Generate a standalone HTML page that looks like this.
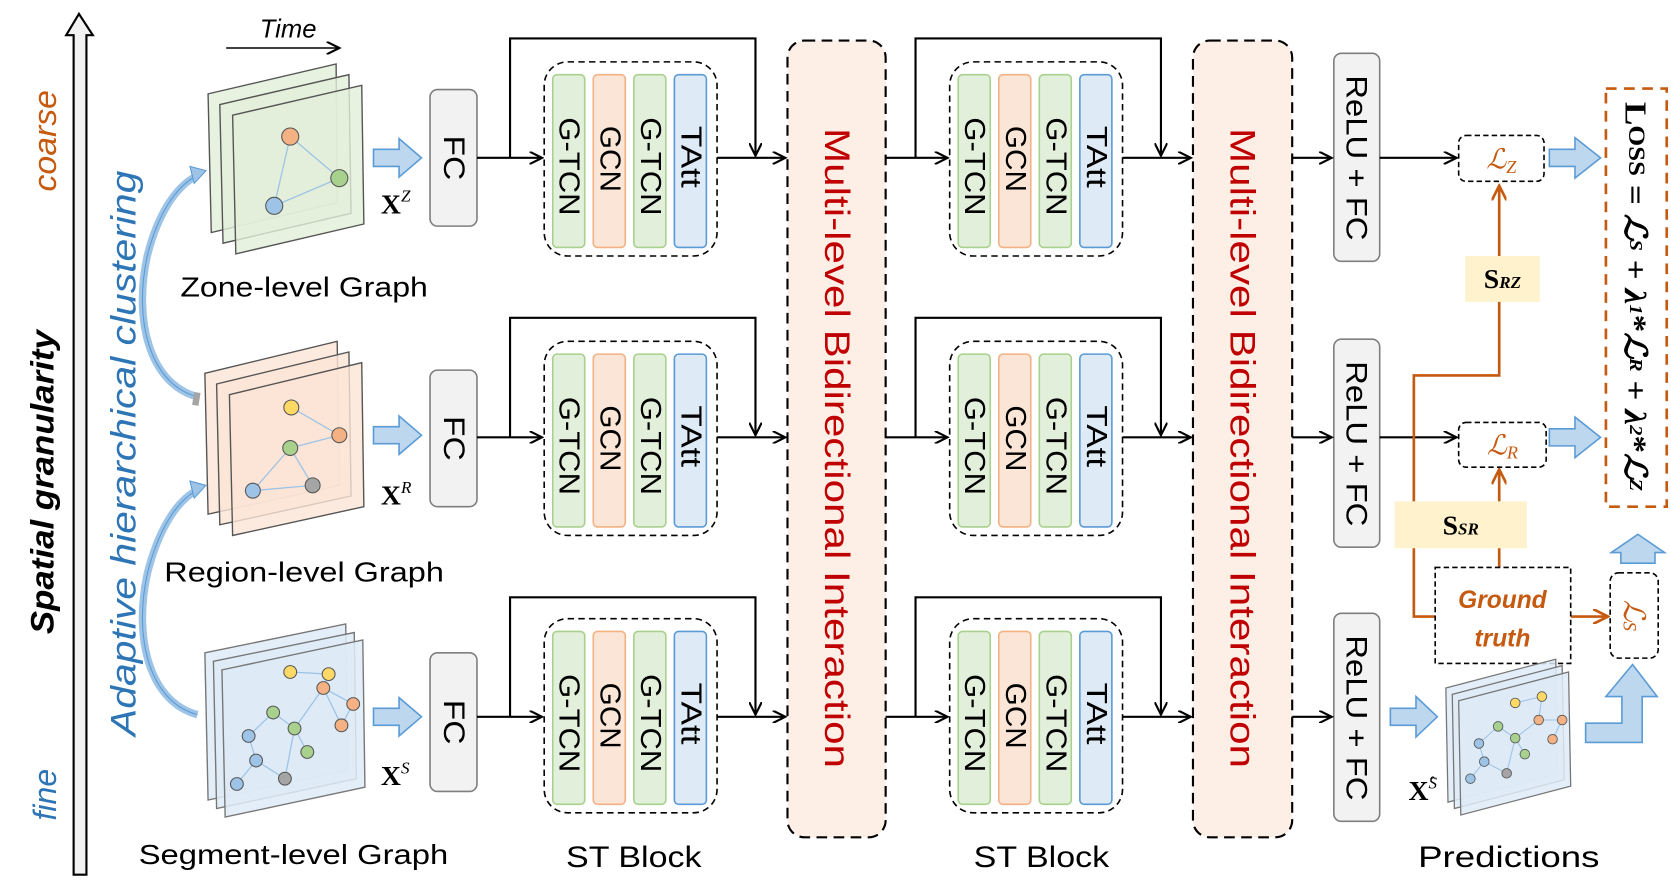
<!DOCTYPE html>
<html><head><meta charset="utf-8"><style>
html,body{margin:0;padding:0;background:#fff;}
svg{display:block;}
text{font-family:"Liberation Sans","DejaVu Sans",sans-serif;}
.rot{dominant-baseline:central;text-anchor:middle;}
.serif{font-family:"Liberation Serif","DejaVu Serif",serif;}
</style></head><body>
<svg width="1671" height="880" viewBox="0 0 1566 825" preserveAspectRatio="none" xmlns="http://www.w3.org/2000/svg">
<defs>
<marker id="ah" markerWidth="14" markerHeight="12" refX="12" refY="6" orient="auto" markerUnits="userSpaceOnUse">
<path d="M0,0 L12,6 L0,12" fill="none" stroke="#000" stroke-width="2"/></marker>
<marker id="ao" markerWidth="16" markerHeight="14" refX="14" refY="7" orient="auto" markerUnits="userSpaceOnUse">
<path d="M0,0 L14,7 L0,14" fill="none" stroke="#c55a11" stroke-width="2.5"/></marker>
</defs>

<path d="M69,820 L69,33 L62,33 L74,13 L87,33 L81,33 L81,820 Z" fill="#f2f2f2" stroke="#000" stroke-width="2"/>
<text class="rot" transform="translate(42,132) rotate(-90)" font-size="30" font-style="italic" fill="#c55a11" textLength="95" lengthAdjust="spacingAndGlyphs">coarse</text>
<text class="rot" transform="translate(40,452) rotate(-90)" font-size="30" font-style="italic" font-weight="bold" fill="#000" textLength="285" lengthAdjust="spacingAndGlyphs">Spatial granularity</text>
<text class="rot" transform="translate(42,745) rotate(-90)" font-size="30" font-style="italic" fill="#2e75b6">fine</text>
<text class="rot" transform="translate(116,425) rotate(-90)" font-size="33" font-style="italic" fill="#2e75b6" textLength="530" lengthAdjust="spacingAndGlyphs">Adaptive hierarchical clustering</text>

<path d="M185,372 C140,360 125,300 138,240 C148,200 165,175 184,165" fill="none" stroke="#9dc3e6" stroke-width="7"/>
<path d="M185,372 C140,360 125,300 138,240 C148,200 165,175 184,165" fill="none" stroke="#5b9bd5" stroke-width="1"/>
<polygon points="178,156 193,160 182,172" fill="#9dc3e6" stroke="#5b9bd5"/>
<path d="M185,368 L183,380" stroke="#a5a5a5" stroke-width="6"/>
<path d="M185,670 C140,658 125,598 138,538 C148,498 165,470 184,460" fill="none" stroke="#9dc3e6" stroke-width="7"/>
<path d="M185,670 C140,658 125,598 138,538 C148,498 165,470 184,460" fill="none" stroke="#5b9bd5" stroke-width="1"/>
<polygon points="178,451 193,455 182,467" fill="#9dc3e6" stroke="#5b9bd5"/>

<text x="270" y="35" font-size="24" font-style="italic" text-anchor="middle">Time</text>
<line x1="212" y1="45" x2="318" y2="45" stroke="#000" stroke-width="1.5" marker-end="url(#ah)"/>

<g stroke="#555" stroke-width="1.3" fill="#e2efda" fill-opacity="0.8">
<polygon points="195,88 315,60 316,190 198,218"/>
<polygon points="206,98 327,70 329,200 209,228"/>
<polygon points="218,108 339,80 341,210 221,238"/>
</g>
<g stroke="#9dc3e6" stroke-width="1.2"><line x1="272" y1="128" x2="318" y2="167"/><line x1="272" y1="128" x2="257" y2="193"/><line x1="318" y1="167" x2="257" y2="193"/></g>
<g stroke="#555" stroke-width="1"><circle cx="272" cy="128" r="8" fill="#f4b183"/><circle cx="318" cy="167" r="8" fill="#a9d18e"/><circle cx="257" cy="193" r="8" fill="#9dc3e6"/></g>
<text x="285" y="278" font-size="26" text-anchor="middle" textLength="232" lengthAdjust="spacingAndGlyphs">Zone-level Graph</text>

<g stroke="#555" stroke-width="1.3" fill="#fbe5d6" fill-opacity="0.8">
<polygon points="192,350 316,320 318,455 195,482"/>
<polygon points="203,360 327,330 329,465 206,492"/>
<polygon points="215,370 339,340 341,475 218,502"/>
</g>
<g stroke="#9dc3e6" stroke-width="1.2"><line x1="273" y1="382" x2="318" y2="408"/><line x1="272" y1="420" x2="318" y2="408"/><line x1="272" y1="420" x2="237" y2="460"/><line x1="272" y1="420" x2="293" y2="455"/><line x1="237" y1="460" x2="293" y2="455"/></g>
<g stroke="#555" stroke-width="1"><circle cx="273" cy="382" r="7" fill="#ffd966"/><circle cx="318" cy="408" r="7" fill="#f4b183"/><circle cx="272" cy="420" r="7" fill="#a9d18e"/><circle cx="237" cy="460" r="7" fill="#9dc3e6"/><circle cx="293" cy="455" r="7" fill="#a5a5a5"/></g>
<text x="285" y="545" font-size="26" text-anchor="middle" textLength="262" lengthAdjust="spacingAndGlyphs">Region-level Graph</text>

<g stroke="#777" stroke-width="1.3" fill="#deebf7" fill-opacity="0.85">
<polygon points="192,612 324,585 326,722 195,750"/>
<polygon points="200,620 332,593 334,730 203,758"/>
<polygon points="208,628 340,600 342,738 211,766"/>
</g>
<g stroke="#9dc3e6" stroke-width="1.2"><polyline points="272,630 308,632 303,645 331,660 320,680" fill="none"/><line x1="303" y1="645" x2="320" y2="680"/><line x1="303" y1="645" x2="276" y2="683"/><line x1="256" y1="668" x2="233" y2="690"/><line x1="233" y1="690" x2="240" y2="713"/><line x1="240" y1="713" x2="222" y2="735"/><line x1="240" y1="713" x2="267" y2="730"/><line x1="276" y1="683" x2="267" y2="730"/><line x1="276" y1="683" x2="288" y2="705"/><line x1="256" y1="668" x2="276" y2="683"/></g>
<g stroke="#555" stroke-width="1"><circle cx="272" cy="630" r="6" fill="#ffd966"/><circle cx="308" cy="632" r="6" fill="#ffd966"/><circle cx="303" cy="645" r="6" fill="#f4b183"/><circle cx="331" cy="660" r="6" fill="#f4b183"/><circle cx="320" cy="680" r="6" fill="#f4b183"/><circle cx="256" cy="668" r="6" fill="#a9d18e"/><circle cx="276" cy="683" r="6" fill="#a9d18e"/><circle cx="288" cy="705" r="6" fill="#a9d18e"/><circle cx="233" cy="690" r="6" fill="#9dc3e6"/><circle cx="240" cy="713" r="6" fill="#9dc3e6"/><circle cx="222" cy="735" r="6" fill="#9dc3e6"/><circle cx="267" cy="730" r="6" fill="#a5a5a5"/></g>
<text x="275" y="810" font-size="26" text-anchor="middle" textLength="290" lengthAdjust="spacingAndGlyphs">Segment-level Graph</text>

<g fill="#bdd7ee" stroke="#5b9bd5" stroke-width="1.5">
<polygon points="350,140 374,140 374,130 395,148 374,166 374,156 350,156"/>
<polygon points="350,400 374,400 374,390 395,408 374,426 374,416 350,416"/>
<polygon points="350,664 374,664 374,654 395,672 374,690 374,680 350,680"/>
<polygon points="1303,664 1327,664 1327,653 1347,672 1327,691 1327,680 1303,680"/>
<polygon points="1452,140 1476,140 1476,129 1500,148 1476,167 1476,156 1452,156"/>
<polygon points="1452,402 1476,402 1476,391 1500,410 1476,429 1476,418 1452,418"/>
<polygon points="1519,528 1519,518 1510,518 1535,501 1560,518 1551,518 1551,528"/>
<polygon points="1486,678 1520,678 1520,653 1505,653 1530,623 1553,653 1539,653 1539,696 1486,696"/>
</g>
<g class="serif" font-weight="bold">
<text class="serif" x="357" y="200" font-size="26">X<tspan font-weight="normal" font-style="italic" font-size="16" dy="-11">Z</tspan></text>
<text class="serif" x="357" y="473" font-size="26">X<tspan font-weight="normal" font-style="italic" font-size="16" dy="-11">R</tspan></text>
<text class="serif" x="357" y="736" font-size="26">X<tspan font-weight="normal" font-style="italic" font-size="16" dy="-11">S</tspan></text>
<text class="serif" x="1320" y="750" font-size="26">X<tspan font-weight="normal" font-style="italic" font-size="16" dy="-11">̂S</tspan></text>
</g>

<g fill="#f2f2f2" stroke="#7f7f7f" stroke-width="1.5">
<rect x="403" y="84" width="44" height="128" rx="7"/>
<rect x="403" y="347" width="44" height="128" rx="7"/>
<rect x="403" y="612" width="44" height="130" rx="7"/>
<rect x="1250" y="50" width="43" height="195" rx="7"/>
<rect x="1250" y="318" width="43" height="195" rx="7"/>
<rect x="1250" y="575" width="43" height="195" rx="7"/>
</g>
<g font-size="28">
<text class="rot" transform="translate(425,148) rotate(90)" textLength="42" lengthAdjust="spacingAndGlyphs">FC</text>
<text class="rot" transform="translate(425,411) rotate(90)" textLength="42" lengthAdjust="spacingAndGlyphs">FC</text>
<text class="rot" transform="translate(425,677) rotate(90)" textLength="42" lengthAdjust="spacingAndGlyphs">FC</text>
<text class="rot" transform="translate(1271,148) rotate(90)" font-size="28" textLength="155" lengthAdjust="spacingAndGlyphs">ReLU + FC</text>
<text class="rot" transform="translate(1271,416) rotate(90)" font-size="28" textLength="155" lengthAdjust="spacingAndGlyphs">ReLU + FC</text>
<text class="rot" transform="translate(1271,673) rotate(90)" font-size="28" textLength="155" lengthAdjust="spacingAndGlyphs">ReLU + FC</text>
</g>

<g fill="#fdeee6" stroke="#000" stroke-width="2" stroke-dasharray="10,6">
<rect x="738" y="38" width="92" height="747" rx="16"/>
<rect x="1118" y="38" width="93" height="747" rx="16"/>
</g>
<text class="rot" transform="translate(784,420) rotate(90)" font-size="33" fill="#c00000" textLength="600" lengthAdjust="spacingAndGlyphs">Multi-level Bidirectional Interaction</text>
<text class="rot" transform="translate(1164,420) rotate(90)" font-size="33" fill="#c00000" textLength="600" lengthAdjust="spacingAndGlyphs">Multi-level Bidirectional Interaction</text>

<g id="st">
<rect x="510" y="58" width="162" height="182" rx="22" fill="none" stroke="#000" stroke-width="1.5" stroke-dasharray="6,4"/>
<rect x="518" y="70" width="30" height="162" rx="4" fill="#e2efda" stroke="#a9d18e" stroke-width="1.5"/>
<rect x="556" y="70" width="30" height="162" rx="4" fill="#fbe5d6" stroke="#f4b183" stroke-width="1.5"/>
<rect x="594" y="70" width="30" height="162" rx="4" fill="#e2efda" stroke="#a9d18e" stroke-width="1.5"/>
<rect x="632" y="70" width="30" height="162" rx="4" fill="#deebf7" stroke="#5b9bd5" stroke-width="1.5"/>
<g font-size="27">
<text class="rot" transform="translate(533,156) rotate(90)" textLength="92" lengthAdjust="spacingAndGlyphs">G-TCN</text>
<text class="rot" transform="translate(571,149) rotate(90)" textLength="62" lengthAdjust="spacingAndGlyphs">GCN</text>
<text class="rot" transform="translate(609,156) rotate(90)" textLength="92" lengthAdjust="spacingAndGlyphs">G-TCN</text>
<text class="rot" transform="translate(647,147) rotate(90)" textLength="58" lengthAdjust="spacingAndGlyphs">TAtt</text>
</g>
</g>
<use href="#st" transform="translate(0,262)"/>
<use href="#st" transform="translate(0,522)"/>
<use href="#st" transform="translate(380,0)"/>
<use href="#st" transform="translate(380,262)"/>
<use href="#st" transform="translate(380,522)"/>

<g stroke="#000" stroke-width="2" fill="none">
<line x1="447" y1="148" x2="508" y2="148" marker-end="url(#ah)"/>
<polyline points="478,148 478,36 708,36 708,146" marker-end="url(#ah)"/>
<line x1="672" y1="148" x2="736" y2="148" marker-end="url(#ah)"/>
<line x1="830" y1="148" x2="888" y2="148" marker-end="url(#ah)"/>
<polyline points="858,148 858,36 1088,36 1088,146" marker-end="url(#ah)"/>
<line x1="1052" y1="148" x2="1116" y2="148" marker-end="url(#ah)"/>
<line x1="1211" y1="148" x2="1248" y2="148" marker-end="url(#ah)"/>
<line x1="1293" y1="148" x2="1365" y2="148" marker-end="url(#ah)"/>

<line x1="447" y1="410" x2="508" y2="410" marker-end="url(#ah)"/>
<polyline points="478,410 478,298 708,298 708,408" marker-end="url(#ah)"/>
<line x1="672" y1="410" x2="736" y2="410" marker-end="url(#ah)"/>
<line x1="830" y1="410" x2="888" y2="410" marker-end="url(#ah)"/>
<polyline points="858,410 858,298 1088,298 1088,408" marker-end="url(#ah)"/>
<line x1="1052" y1="410" x2="1116" y2="410" marker-end="url(#ah)"/>
<line x1="1211" y1="410" x2="1248" y2="410" marker-end="url(#ah)"/>
<line x1="1293" y1="410" x2="1365" y2="410" marker-end="url(#ah)"/>

<line x1="447" y1="672" x2="508" y2="672" marker-end="url(#ah)"/>
<polyline points="478,672 478,560 708,560 708,670" marker-end="url(#ah)"/>
<line x1="672" y1="672" x2="736" y2="672" marker-end="url(#ah)"/>
<line x1="830" y1="672" x2="888" y2="672" marker-end="url(#ah)"/>
<polyline points="858,672 858,560 1088,560 1088,670" marker-end="url(#ah)"/>
<line x1="1052" y1="672" x2="1116" y2="672" marker-end="url(#ah)"/>
<line x1="1211" y1="672" x2="1248" y2="672" marker-end="url(#ah)"/>
</g>

<g stroke="#c55a11" stroke-width="2.5" fill="none">
<polyline points="1345,578 1325,578 1325,352 1405,352 1405,174" marker-end="url(#ao)"/>
<polyline points="1405,532 1405,440" marker-end="url(#ao)"/>
<line x1="1472" y1="578" x2="1507" y2="578" marker-end="url(#ao)"/>
</g>
<rect x="1373" y="240" width="70" height="43" fill="#fff2cc"/>
<text class="serif" x="1408" y="270" font-weight="bold" font-size="26" text-anchor="middle">S<tspan font-style="italic" font-size="16">RZ</tspan></text>
<rect x="1307" y="470" width="124" height="44" fill="#fff2cc"/>
<text class="serif" x="1369" y="501" font-weight="bold" font-size="26" text-anchor="middle">S<tspan font-style="italic" font-size="16">SR</tspan></text>

<g fill="#fff" stroke="#000" stroke-width="1.5" stroke-dasharray="5,3">
<rect x="1367" y="127" width="80" height="43" rx="7"/>
<rect x="1367" y="396" width="82" height="42" rx="7"/>
<rect x="1509" y="537" width="45" height="80" rx="8"/>
<rect x="1345" y="532" width="127" height="90"/>
</g>
<g font-style="italic" fill="#c55a11">
<text class="serif" x="1407" y="158" font-size="26" text-anchor="middle">ℒ<tspan font-size="17" dy="4">Z</tspan></text>
<text class="serif" x="1408" y="426" font-size="26" text-anchor="middle">ℒ<tspan font-size="17" dy="4">R</tspan></text>
<text class="rot serif" transform="translate(1531,577) rotate(90)" font-size="28">ℒ<tspan font-size="18" dy="4">S</tspan></text>
</g>
<text x="1408" y="570" font-size="23" font-weight="bold" font-style="italic" fill="#c55a11" text-anchor="middle">Ground</text>
<text x="1408" y="606" font-size="23" font-weight="bold" font-style="italic" fill="#c55a11" text-anchor="middle">truth</text>

<rect x="1505" y="83" width="57" height="392" fill="none" stroke="#c55a11" stroke-width="2.5" stroke-dasharray="10,7"/>
<text class="rot serif" transform="translate(1533,278) rotate(90)" font-weight="bold" font-size="29" textLength="365" lengthAdjust="spacingAndGlyphs">L<tspan font-size="22">OSS</tspan> = <tspan font-style="italic">ℒ</tspan><tspan font-style="italic" font-size="17">S</tspan> + <tspan font-style="italic">λ</tspan><tspan font-style="italic" font-size="17">1</tspan>*<tspan font-style="italic">ℒ</tspan><tspan font-style="italic" font-size="17">R</tspan> + <tspan font-style="italic">λ</tspan><tspan font-style="italic" font-size="17">2</tspan>*<tspan font-style="italic">ℒ</tspan><tspan font-style="italic" font-size="17">Z</tspan></text>

<g stroke="#777" stroke-width="1.2" fill="#deebf7" fill-opacity="0.85">
<polygon points="1355,645 1458,618 1460,725 1357,752"/>
<polygon points="1361,651 1464,624 1466,731 1363,758"/>
<polygon points="1367,657 1470,630 1472,737 1369,764"/>
</g>
<g stroke="#9dc3e6" stroke-width="1"><polyline points="1420,659 1445,653 1442,675 1464,675 1455,693" fill="none"/><line x1="1442" y1="675" x2="1420" y2="692"/><line x1="1420" y1="692" x2="1404" y2="681"/><line x1="1404" y1="681" x2="1386" y2="697"/><line x1="1386" y1="697" x2="1391" y2="714"/><line x1="1391" y1="714" x2="1378" y2="730"/><line x1="1391" y1="714" x2="1412" y2="725"/><line x1="1420" y1="692" x2="1412" y2="725"/><line x1="1420" y1="692" x2="1429" y2="707"/></g>
<g stroke="#555" stroke-width="0.8"><circle cx="1420" cy="659" r="4.5" fill="#ffd966"/><circle cx="1445" cy="653" r="4.5" fill="#ffd966"/><circle cx="1442" cy="675" r="4.5" fill="#f4b183"/><circle cx="1464" cy="675" r="4.5" fill="#f4b183"/><circle cx="1455" cy="693" r="4.5" fill="#f4b183"/><circle cx="1404" cy="681" r="4.5" fill="#a9d18e"/><circle cx="1420" cy="692" r="4.5" fill="#a9d18e"/><circle cx="1429" cy="707" r="4.5" fill="#a9d18e"/><circle cx="1386" cy="697" r="4.5" fill="#9dc3e6"/><circle cx="1391" cy="714" r="4.5" fill="#9dc3e6"/><circle cx="1378" cy="730" r="4.5" fill="#9dc3e6"/><circle cx="1412" cy="725" r="4.5" fill="#a5a5a5"/></g>

<g font-size="28" text-anchor="middle">
<text x="594" y="813" textLength="127" lengthAdjust="spacingAndGlyphs">ST Block</text>
<text x="976" y="813" textLength="127" lengthAdjust="spacingAndGlyphs">ST Block</text>
<text x="1414" y="813" textLength="170" lengthAdjust="spacingAndGlyphs">Predictions</text>
</g>
</svg>
</body></html>
